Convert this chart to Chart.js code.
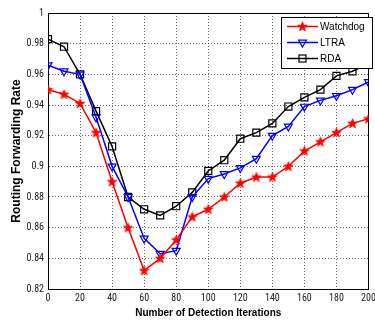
<!DOCTYPE html>
<html>
<head>
<meta charset="utf-8">
<script src="https://cdn.jsdelivr.net/npm/chart.js@4/dist/chart.umd.min.js"></script>
<style>
  html, body { margin: 0; padding: 0; background: #fff; }
  #wrap { width: 375px; height: 321px; }
</style>
</head>
<body>
<div id="wrap"><canvas id="c" width="375" height="321"></canvas></div>
<script>
const iterations = [0,10,20,30,40,50,60,70,80,90,100,110,120,130,140,150,160,170,180,190,200];
const watchdog = [0.950,0.947,0.941,0.922,0.890,0.860,0.832,0.840,0.852,0.867,0.872,0.880,0.889,0.893,0.893,0.900,0.910,0.916,0.922,0.928,0.931];
const ltra     = [0.966,0.962,0.960,0.932,0.900,0.880,0.853,0.843,0.845,0.880,0.892,0.895,0.899,0.905,0.920,0.926,0.939,0.943,0.946,0.950,0.955];
const rda      = [0.983,0.978,0.960,0.936,0.913,0.880,0.872,0.868,0.874,0.883,0.897,0.904,0.918,0.922,0.928,0.939,0.945,0.950,0.959,0.962,0.967];
const seriesNames = ['Watchdog', 'LTRA', 'RDA'];
const xTitle = 'Number of Detection Iterations';
const yTitle = 'Routing Forwarding Rate';

function makeStar(color) {
  const c = document.createElement('canvas');
  c.width = 11; c.height = 11;
  const g = c.getContext('2d');
  g.beginPath();
  for (let i = 0; i < 10; i++) {
    const r = i % 2 === 0 ? 5 : 2.1;
    const a = -Math.PI / 2 + i * Math.PI / 5;
    const px = 5.5 + r * Math.cos(a), py = 5.8 + r * Math.sin(a);
    if (i === 0) g.moveTo(px, py); else g.lineTo(px, py);
  }
  g.closePath();
  g.fillStyle = color; g.fill();
  g.strokeStyle = color; g.lineWidth = 0.8; g.stroke();
  return c;
}
const starImg = makeStar('#ff0000');

const toXY = arr => arr.map((v, i) => ({x: iterations[i], y: v}));

const tickFont = { family: '"Roboto Condensed", "Liberation Sans", Arial, sans-serif', size: 10 };
const titleFont = { family: '"Liberation Sans", Arial, sans-serif', weight: 'bold' };

const legendPlugin = {
  id: 'insideLegend',
  afterDraw(chart) {
    const ctx = chart.ctx;
    ctx.save();
    ctx.fillStyle = '#fff';
    ctx.fillRect(281.5, 17.5, 91, 51);
    ctx.strokeStyle = '#000'; ctx.lineWidth = 1;
    ctx.strokeRect(281.5, 17.5, 91, 51);
    chart.data.datasets.forEach((ds, i) => {
      const y = 26.5 + i * 16;
      ctx.strokeStyle = ds.borderColor; ctx.lineWidth = 1.5;
      ctx.beginPath(); ctx.moveTo(287, y); ctx.lineTo(318, y); ctx.stroke();
      const mx = 302.5;
      if (i === 0) {
        ctx.drawImage(starImg, mx - 5.5, y - 5.5);
      } else if (i === 1) {
        ctx.lineWidth = 1.2;
        const r = 4.6;
        ctx.beginPath();
        ctx.moveTo(mx, y + r);
        ctx.lineTo(mx - r * 0.866, y - r / 2);
        ctx.lineTo(mx + r * 0.866, y - r / 2);
        ctx.closePath(); ctx.stroke();
      } else {
        ctx.lineWidth = 1.2;
        ctx.strokeRect(mx - 3.5, y - 3.5, 7, 7);
      }
      ctx.fillStyle = '#000';
      ctx.font = '10px "Liberation Sans", Arial, sans-serif';
      ctx.textBaseline = 'middle';
      ctx.textAlign = 'left';
      ctx.fillText(ds.label, 320, y + 0.5);
    });
    ctx.restore();
  }
};

new Chart(document.getElementById('c'), {
  type: 'line',
  data: {
    datasets: [
      { label: seriesNames[0], data: toXY(watchdog), borderColor: '#ff0000', backgroundColor: '#ff0000',
        borderWidth: 1.5, pointStyle: starImg, pointRadius: 5, tension: 0 },
      { label: seriesNames[1], data: toXY(ltra), borderColor: '#0000ff', backgroundColor: 'rgba(0,0,0,0)',
        borderWidth: 1.5, pointStyle: 'triangle', pointRotation: 180, pointRadius: 4.6, pointBorderWidth: 1.2, tension: 0 },
      { label: seriesNames[2], data: toXY(rda), borderColor: '#000000', backgroundColor: 'rgba(0,0,0,0)',
        borderWidth: 1.5, pointStyle: 'rect', pointRadius: 5, pointBorderWidth: 1.2, tension: 0 }
    ]
  },
  options: {
    responsive: false,
    animation: false,
    devicePixelRatio: 1,
    layout: { padding: 0 },
    plugins: { legend: { display: false }, tooltip: { enabled: false } },
    scales: {
      x: {
        type: 'linear', position: 'bottom', min: 0, max: 200,
        ticks: { stepSize: 20, font: tickFont, color: '#222', padding: 3, maxRotation: 0, autoSkip: false },
        grid: { color: 'rgba(0,0,0,0.6)', drawTicks: false, lineWidth: 1 },
        border: { display: true, color: '#000', width: 1, dash: [1, 2] },
        title: { display: true, text: xTitle, font: { ...titleFont, size: 10 }, color: '#000', padding: { top: 0, bottom: 2 } },
        afterFit: s => { s.height = 32; s.paddingLeft = 0; s.paddingRight = 0; }
      },
      x2: {
        type: 'linear', position: 'top', min: 0, max: 200,
        ticks: { display: false },
        grid: { drawOnChartArea: false, drawTicks: false },
        border: { display: true, color: '#000', width: 1 },
        afterFit: s => { s.height = 13; s.paddingLeft = 0; s.paddingRight = 0; }
      },
      y: {
        type: 'linear', position: 'left', min: 0.82, max: 1,
        ticks: { stepSize: 0.02, font: tickFont, color: '#222', padding: 4,
                 callback: v => String(+v.toFixed(2)) },
        grid: { color: 'rgba(0,0,0,0.6)', drawTicks: false, lineWidth: 1 },
        border: { display: true, color: '#000', width: 1, dash: [1, 2] },
        title: { display: true, text: yTitle, font: { ...titleFont, size: 12 }, color: '#000', padding: { top: 9, bottom: 0 } },
        afterFit: s => { s.width = 48; s.paddingTop = 0; s.paddingBottom = 0; }
      },
      y2: {
        type: 'linear', position: 'right', min: 0.82, max: 1,
        ticks: { display: false },
        grid: { drawOnChartArea: false, drawTicks: false },
        border: { display: true, color: '#000', width: 1 },
        afterFit: s => { s.width = 3; s.paddingTop = 0; s.paddingBottom = 0; }
      }
    }
  },
  plugins: [legendPlugin]
});
</script>
</body>
</html>
